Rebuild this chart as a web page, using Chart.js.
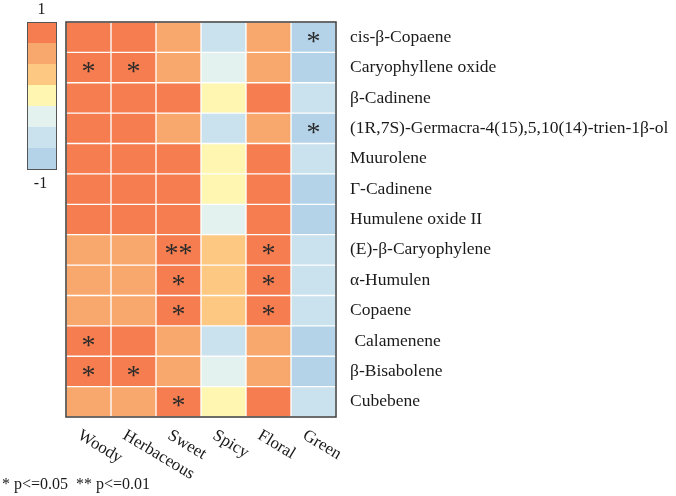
<!DOCTYPE html>
<html>
<head>
<meta charset="utf-8">
<script src="https://cdn.jsdelivr.net/npm/chart.js@4/dist/chart.umd.min.js"></script>
<style>
  html, body { margin: 0; padding: 0; background: #fff; }
  #wrap { width: 676px; height: 496px; }
</style>
</head>
<body>
<div id="wrap"><canvas id="heat" width="676" height="496"></canvas></div>
<script>
// compuestos (filas) y atributos (columnas)
const compuestos = [
  "cis-β-Copaene",
  "Caryophyllene oxide",
  "β-Cadinene",
  "(1R,7S)-Germacra-4(15),5,10(14)-trien-1β-ol",
  "Muurolene",
  "Γ-Cadinene",
  "Humulene oxide II",
  "(E)-β-Caryophylene",
  "α-Humulen",
  "Copaene",
  " Calamenene",
  "β-Bisabolene",
  "Cubebene"
];
const atributos = ["Woody", "Herbaceous", "Sweet", "Spicy", "Floral", "Green"];

// correlaciones
const woody      = [0.86, 0.86, 0.86, 0.86, 0.86, 0.86, 0.86, 0.57, 0.57, 0.57, 0.86, 0.86, 0.57];
const herbaceous = [0.86, 0.86, 0.86, 0.86, 0.86, 0.86, 0.86, 0.57, 0.57, 0.57, 0.86, 0.86, 0.57];
const sweet      = [0.57, 0.57, 0.86, 0.57, 0.86, 0.86, 0.86, 0.86, 0.86, 0.86, 0.57, 0.57, 0.86];
const spicy      = [-0.57, -0.29, 0, -0.57, 0, 0, -0.29, 0.29, 0.29, 0.29, -0.57, -0.29, 0];
const floral     = [0.57, 0.57, 0.86, 0.57, 0.86, 0.86, 0.86, 0.86, 0.86, 0.86, 0.57, 0.57, 0.86];
const green      = [-0.86, -0.86, -0.57, -0.86, -0.57, -0.86, -0.86, -0.57, -0.57, -0.57, -0.86, -0.86, -0.57];

// significancia
const woodySig      = ["", "*", "", "", "", "", "", "", "", "", "*", "*", ""];
const herbaceousSig = ["", "*", "", "", "", "", "", "", "", "", "", "*", ""];
const sweetSig      = ["", "", "", "", "", "", "", "**", "*", "*", "", "", "*"];
const spicySig      = ["", "", "", "", "", "", "", "", "", "", "", "", ""];
const floralSig     = ["", "", "", "", "", "", "", "*", "*", "*", "", "", ""];
const greenSig      = ["*", "", "", "*", "", "", "", "", "", "", "", "", ""];

const valores = [woody, herbaceous, sweet, spicy, floral, green];
const sigs = [woodySig, herbaceousSig, sweetSig, spicySig, floralSig, greenSig];

const escalaLabels = ["1", "-1"];
const nota = "* p<=0.05  ** p<=0.01";

// paleta de 1 a -1
const paleta = ["#F57D4F", "#F9A86D", "#FDC882", "#FEF6B1", "#E4F2EF", "#C9E2EE", "#B4D3E8"];

function colorDe(v) {
  let b = Math.floor((1 - v) / (2 / 7));
  if (b < 0) b = 0;
  if (b > 6) b = 6;
  return paleta[b];
}

const serif = "'Liberation Serif', 'Times New Roman', serif";

const extras = {
  id: 'extras',
  afterDatasetsDraw(chart) {
    const ctx = chart.ctx;
    const x = chart.scales.x;
    const y = chart.scales.y;
    const a = chart.chartArea;

    // asteriscos
    ctx.save();
    ctx.fillStyle = '#2a2a2a';
    ctx.font = "28px " + serif;
    ctx.textAlign = 'center';
    ctx.textBaseline = 'alphabetic';
    sigs.forEach((col, k) => {
      col.forEach((s, i) => {
        if (!s) return;
        const cx = x.getPixelForValue(k + 0.5);
        const cy = y.getPixelForValue(i);
        const m = ctx.measureText(s);
        const off = (m.actualBoundingBoxAscent - m.actualBoundingBoxDescent) / 2;
        ctx.fillText(s, cx, cy + off);
      });
    });
    ctx.restore();

    // borde
    ctx.save();
    ctx.strokeStyle = '#3c3c3c';
    ctx.lineWidth = 1.5;
    ctx.strokeRect(a.left, a.top, a.right - a.left, a.bottom - a.top);
    ctx.restore();
  },
  afterDraw(chart) {
    const ctx = chart.ctx;
    const x = chart.scales.x;

    // etiquetas del eje x rotadas
    ctx.save();
    ctx.fillStyle = '#1a1a1a';
    ctx.font = "17px " + serif;
    ctx.textAlign = 'left';
    ctx.textBaseline = 'top';
    atributos.forEach((t, k) => {
      const cx = x.getPixelForValue(k + 0.5);
      ctx.save();
      ctx.translate(cx - 5, 427);
      ctx.rotate(31 * Math.PI / 180);
      ctx.fillText(t, 0, 0);
      ctx.restore();
    });
    ctx.restore();

    // barra de color
    const bx = 27, by = 22, bw = 29, bh = 147;
    ctx.save();
    paleta.forEach((c, i) => {
      ctx.fillStyle = c;
      ctx.fillRect(bx, by + i * bh / 7, bw, bh / 7 + 0.5);
    });
    ctx.strokeStyle = '#555';
    ctx.lineWidth = 1;
    ctx.strokeRect(bx + 0.5, by + 0.5, bw, bh);
    ctx.fillStyle = '#1a1a1a';
    ctx.font = "16px " + serif;
    ctx.textAlign = 'center';
    ctx.textBaseline = 'middle';
    ctx.fillText(escalaLabels[0], bx + bw / 2, 10);
    ctx.fillText(escalaLabels[1], bx + bw / 2 - 1, 184);

    // nota
    ctx.textAlign = 'left';
    ctx.textBaseline = 'alphabetic';
    ctx.fillText(nota, 2, 489);
    ctx.restore();
  }
};

const datasets = atributos.map((nombre, k) => ({
  label: nombre,
  data: valores[k].map(() => [k, k + 1]),
  backgroundColor: valores[k].map(colorDe),
  borderColor: 'rgba(255,255,255,0.22)',
  borderWidth: 1,
  borderSkipped: false,
  grouped: false,
  barPercentage: 1,
  categoryPercentage: 1
}));

new Chart(document.getElementById('heat'), {
  type: 'bar',
  data: { labels: compuestos, datasets: datasets },
  options: {
    indexAxis: 'y',
    responsive: false,
    animation: false,
    layout: { padding: { left: 66, top: 22, bottom: 79, right: 0 } },
    plugins: {
      legend: { display: false },
      tooltip: { enabled: false }
    },
    scales: {
      x: {
        type: 'linear',
        min: 0,
        max: 6,
        display: false
      },
      y: {
        position: 'right',
        grid: { display: false },
        border: { display: false },
        ticks: {
          padding: 6,
          color: '#1a1a1a',
          font: { family: serif, size: 17.5 }
        },
        afterFit(scale) { scale.width = 340; }
      }
    }
  },
  plugins: [extras]
});
</script>
</body>
</html>
